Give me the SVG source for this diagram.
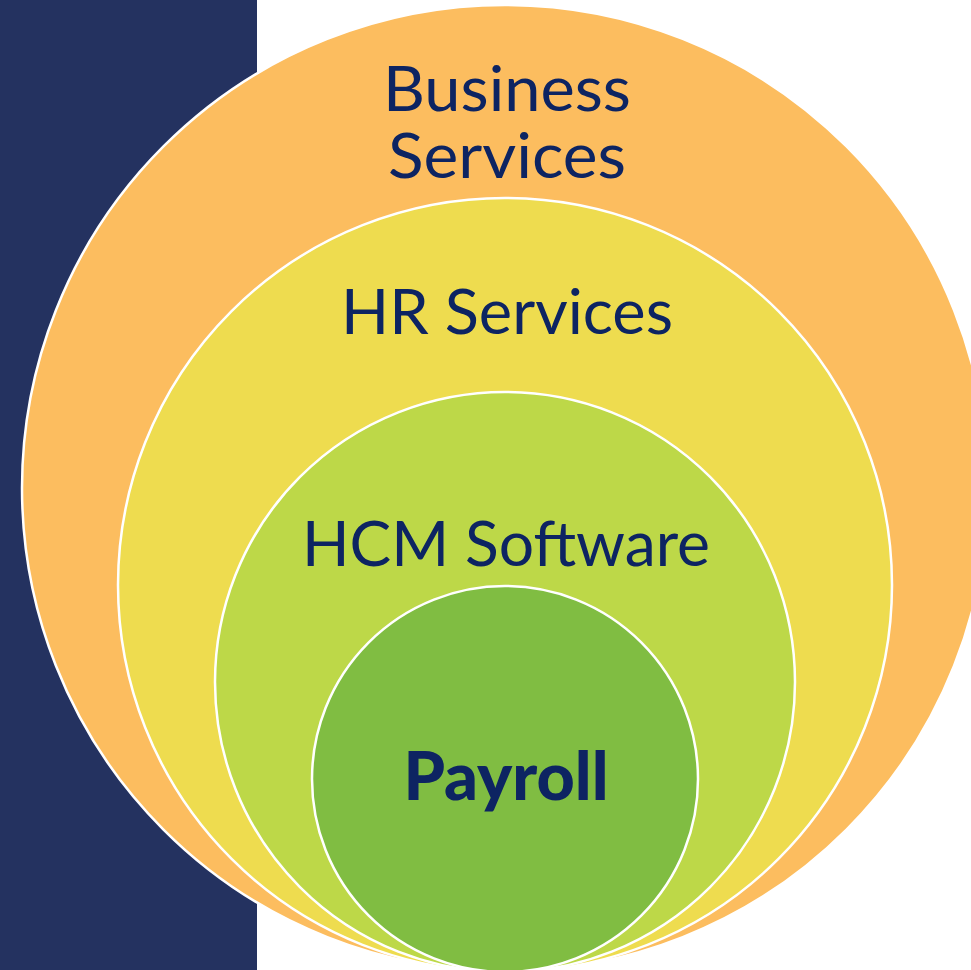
<svg xmlns="http://www.w3.org/2000/svg" width="971" height="970" viewBox="0 0 971 970">
  <style>
    .ring { stroke: #FFFFFF; stroke-width: 2.5; }
    .lbl { font-family: Lato, "Noto Sans", "Liberation Sans", sans-serif; fill: #0D2462; text-anchor: middle; font-size: 61px; }
    .bold { font-weight: 900; font-size: 67px; }
  </style>
  <rect x="0" y="0" width="971" height="970" fill="#FFFFFF"/>
  <rect id="sidebar" x="0" y="0" width="257" height="970" fill="#243260"/>
  <g id="business-services">
    <circle class="ring" cx="505" cy="488" r="483" fill="#FCBD5F"/>
    <text class="lbl" x="507" y="111" textLength="248" lengthAdjust="spacingAndGlyphs">Business</text>
    <text class="lbl" x="507" y="178" textLength="238" lengthAdjust="spacingAndGlyphs">Services</text>
  </g>
  <g id="hr-services">
    <circle class="ring" cx="505" cy="585" r="387" fill="#EEDC4F"/>
    <text class="lbl" x="507" y="334" textLength="332" lengthAdjust="spacingAndGlyphs">HR Services</text>
  </g>
  <g id="hcm-software">
    <circle class="ring" cx="505" cy="682" r="290" fill="#BDD848"/>
    <text class="lbl" x="506" y="566" textLength="408" lengthAdjust="spacingAndGlyphs">HCM Software</text>
  </g>
  <g id="payroll">
    <circle class="ring" cx="505" cy="779" r="193" fill="#80BD42"/>
    <text class="lbl bold" x="506" y="800" textLength="205" lengthAdjust="spacingAndGlyphs">Payroll</text>
  </g>
  <g id="connectors"/>
</svg>
